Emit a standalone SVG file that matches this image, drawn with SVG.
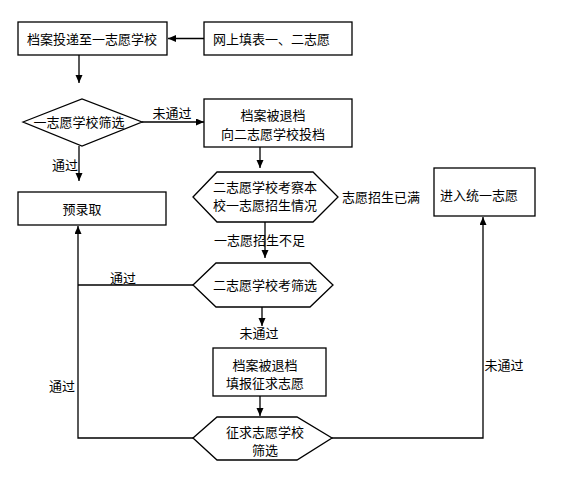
<svg xmlns="http://www.w3.org/2000/svg" width="561" height="477" viewBox="0 0 561 477">
<defs>
<marker id="ah" markerWidth="9" markerHeight="8" refX="8" refY="3.5" orient="auto" markerUnits="userSpaceOnUse">
<path d="M0,0 L8,3.5 L0,7 z" fill="#000"/>
</marker>
</defs>
<style>
.s{fill:#fff;stroke:#000;stroke-width:1.3}
.c{fill:none;stroke:#000;stroke-width:1.3;marker-end:url(#ah)}
.l{fill:none;stroke:#000;stroke-width:1.3}
text{font-family:"Noto Sans CJK SC","Noto Sans",sans-serif;font-size:13px;fill:#000}
.m{text-anchor:middle}
</style>
<rect width="561" height="477" fill="#fff"/>
<g id="connectors">
<path class="c" d="M204,38.5 H168"/>
<path class="c" d="M79,55 V83"/>
<path class="c" d="M142,122 H204"/>
<path class="c" d="M79,146 V181"/>
<path class="c" d="M260,147 V168"/>
<path class="c" d="M265,222 V258"/>
<path class="l" d="M193,285 H78"/>
<path class="c" d="M262,307 V326"/>
<path class="c" d="M260,396 V416"/>
<path class="c" d="M193,438 H78 V226"/>
<path class="c" d="M332,438 H483 V217"/>
</g>
<g id="labels">
<text class="m" x="172" y="118">未通过</text>
<text class="m" x="65" y="170">通过</text>
<text class="m" x="381" y="202">志愿招生已满</text>
<text class="m" x="259.5" y="245">一志愿招生不足</text>
<text class="m" x="123" y="283">通过</text>
<text class="m" x="259" y="338">未通过</text>
<text class="m" x="62" y="391">通过</text>
<text class="m" x="504" y="370">未通过</text>
</g>
<g id="n1">
<rect class="s" x="18" y="22" width="149" height="33"/>
<text class="m" x="92" y="43.5">档案投递至一志愿学校</text>
</g>
<g id="n2">
<rect class="s" x="204" y="22" width="148" height="33"/>
<text x="213" y="43.5">网上填表一、二志愿</text>
</g>
<g id="n3">
<path class="s" d="M23,122 L82,99 L142,122 L82,146 Z"/>
<text class="m" x="79" y="127">一志愿学校筛选</text>
</g>
<g id="n4">
<rect class="s" x="204" y="99" width="148" height="48"/>
<text class="m" x="273" y="120">档案被退档</text>
<text class="m" x="273" y="139">向二志愿学校投档</text>
</g>
<g id="n5">
<rect class="s" x="18" y="192" width="148" height="33"/>
<text class="m" x="82" y="214">预录取</text>
</g>
<g id="n6">
<path class="s" d="M193,197 L217,172 L313,172 L338,197 L313,222 L217,222 Z"/>
<text class="m" x="265" y="192">二志愿学校考察本</text>
<text class="m" x="265" y="210">校一志愿招生情况</text>
</g>
<g id="n7">
<rect class="s" x="434" y="168" width="101" height="48"/>
<text x="440" y="200">进入统一志愿</text>
</g>
<g id="n8">
<path class="s" d="M193,285 L216,263 L310,263 L333,285 L310,307 L216,307 Z"/>
<text class="m" x="265" y="290">二志愿学校考筛选</text>
</g>
<g id="n9">
<rect class="s" x="213" y="348" width="113" height="48"/>
<text class="m" x="265" y="370">档案被退档</text>
<text class="m" x="265" y="388">填报征求志愿</text>
</g>
<g id="n10">
<path class="s" d="M193,438 L217,417 L297,417 L332,438 L297,460 L217,460 Z"/>
<text class="m" x="265" y="437">征求志愿学校</text>
<text class="m" x="265" y="455">筛选</text>
</g>
</svg>
